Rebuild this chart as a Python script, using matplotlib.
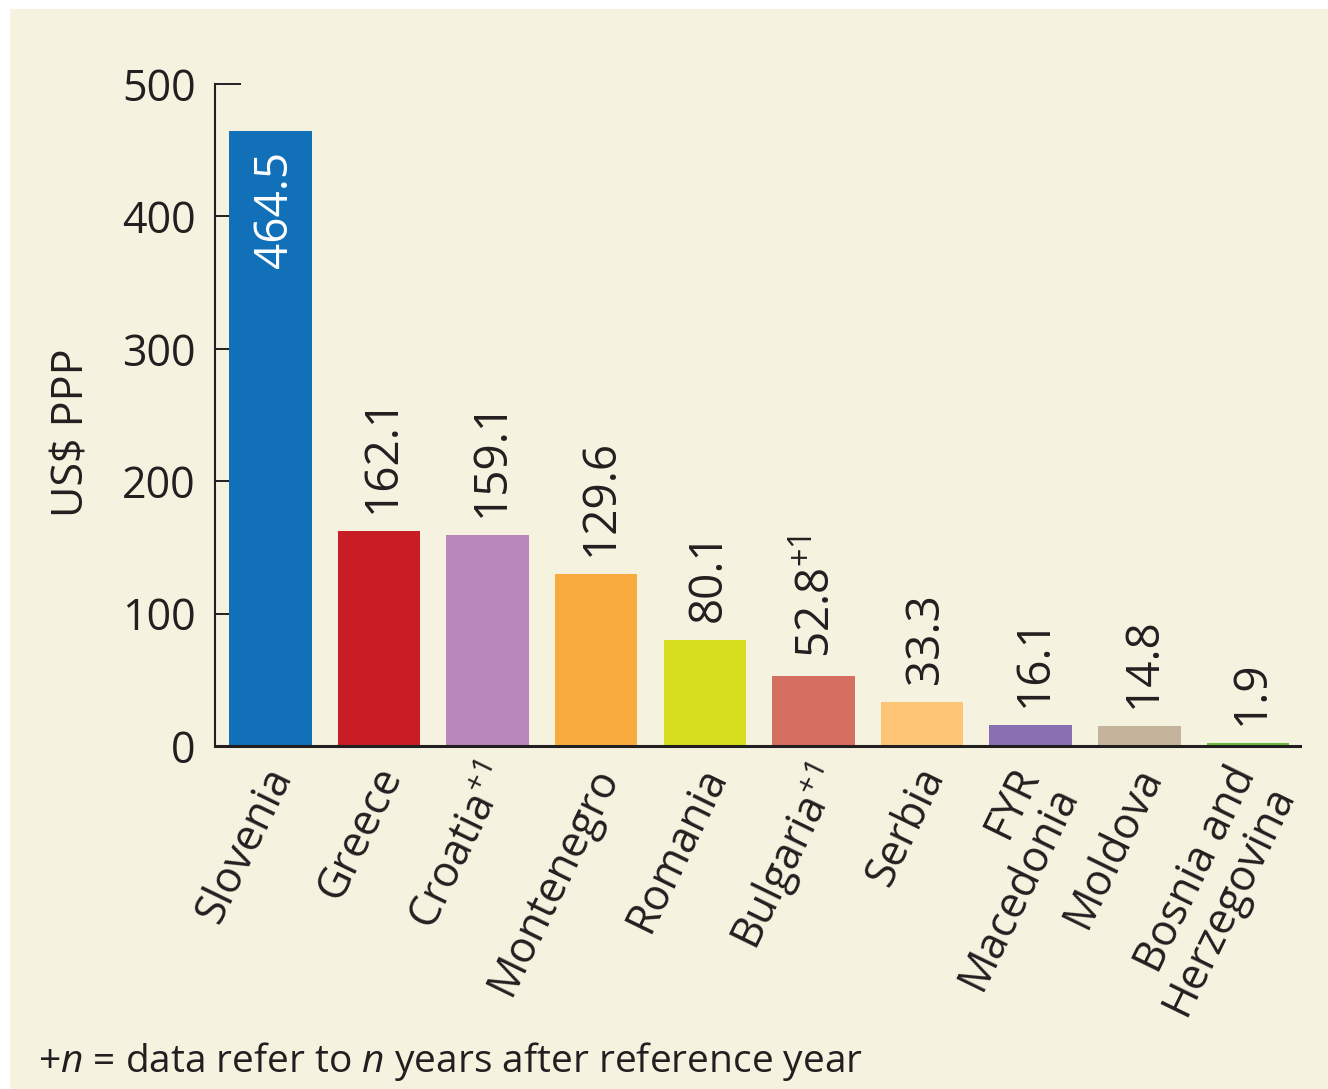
import matplotlib.pyplot as plt
from matplotlib.patches import Rectangle
from matplotlib.transforms import offset_copy, ScaledTranslation

# R&D spending per capita, South-East Europe
countries = ['Slovenia', 'Greece', 'Croatia$^{+1}$', 'Montenegro', 'Romania',
             'Bulgaria$^{+1}$', 'Serbia', 'FYR\nMacedonia', 'Moldova',
             'Bosnia and\nHerzegovina']
values = [464.5, 162.1, 159.1, 129.6, 80.1, 52.8, 33.3, 16.1, 14.8, 1.9]
value_labels = ['464.5', '162.1', '159.1', '129.6', '80.1', '52.8$^{+1}$',
                '33.3', '16.1', '14.8', '1.9']
colors = ['#1170B8', '#C81D25', '#B987BC', '#F9AC3D', '#D6DE1F',
          '#D46F61', '#FEC577', '#8870B0', '#C4B49B', '#6DBD3F']

plt.rcParams['font.family'] = ['Open Sans', 'DejaVu Sans']
plt.rcParams['mathtext.fontset'] = 'custom'
plt.rcParams['mathtext.rm'] = 'Open Sans'
plt.rcParams['mathtext.it'] = 'Open Sans:italic'

bg = '#F5F2DF'
txt = '#231F20'

fig = plt.figure(figsize=(13.28, 10.89), dpi=100, facecolor='white')
fig.patches.append(Rectangle((10 / 1328, 0), 1, 1 - 9 / 1089,
                             transform=fig.transFigure, facecolor=bg,
                             edgecolor='none', zorder=-5))

ax = fig.add_axes([215 / 1328, 1 - 746 / 1089, (1300 - 215) / 1328, (746 - 84) / 1089])
ax.set_facecolor('none')
ax.set_zorder(2)

x = list(range(len(values)))
ax.bar(x, values, width=0.76, color=colors, zorder=2)

ax.set_xlim(-0.51, 9.48)
ax.set_ylim(0, 500)
ax.set_yticks([0, 100, 200, 300, 400, 500])
ax.tick_params(axis='y', direction='in', length=19, width=1.4, color=txt,
               labelsize=31, labelcolor=txt, pad=14)
ax.set_axisbelow(True)
ax.set_xticks(x)
ax.set_xticklabels(countries, rotation=64, ha='right', va='top',
                   rotation_mode='anchor', fontsize=31, color=txt,
                   multialignment='right', linespacing=0.95)
ax.tick_params(axis='x', length=0, pad=10)
for lbl in ax.get_xticklabels():
    dx = -22 if '\n' in lbl.get_text() else -8
    lbl.set_transform(lbl.get_transform() +
                      ScaledTranslation(dx / 100, 0, fig.dpi_scale_trans))

for s in ['top', 'right']:
    ax.spines[s].set_visible(False)
ax.spines['left'].set_linewidth(1.5)
ax.spines['bottom'].set_linewidth(2.2)
ax.spines['left'].set_color(txt)
ax.spines['bottom'].set_color(txt)

ax.set_ylabel('US$ PPP', fontsize=31, color=txt)
ax.yaxis.set_label_coords(-0.111, 0.474)

# value labels above bars, the tallest one inside in white
for i, (v, lab) in enumerate(zip(values, value_labels)):
    if i == 0:
        tr = offset_copy(ax.transData, fig=fig, x=3, y=-14, units='points')
        ax.text(i, v, lab, rotation=90, rotation_mode='anchor', ha='right',
                va='center', color='white', fontsize=33, transform=tr, zorder=3)
    else:
        tr = offset_copy(ax.transData, fig=fig, x=3, y=13, units='points')
        ax.text(i, v, lab, rotation=90, rotation_mode='anchor', ha='left',
                va='center', color=txt, fontsize=33, transform=tr, zorder=3)

fig.text(38 / 1328, 1 - 1072 / 1089, '+$n$ = data refer to $n$ years after reference year',
         fontsize=28, color=txt, ha='left', va='baseline')

fig.savefig('out.png', dpi=100, facecolor=fig.get_facecolor())
